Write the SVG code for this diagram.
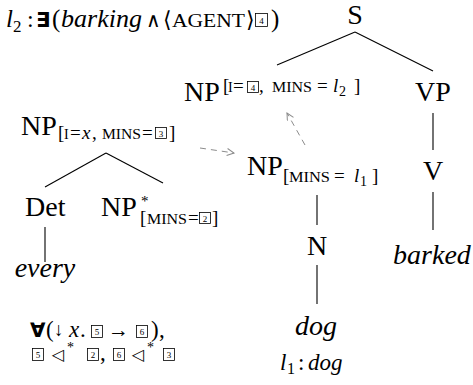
<svg xmlns="http://www.w3.org/2000/svg" width="473" height="385" viewBox="0 0 473 385">
<defs>
<style>
text{font-family:"Liberation Serif","DejaVu Serif",serif;fill:#000}
.lab{font-size:28px}
.it{font-style:italic}
.sub{font-size:19px}
.sc{font-size:14px}
.q{font-family:"DejaVu Sans",sans-serif;font-weight:bold}
.m{font-family:"DejaVu Serif","DejaVu Sans",serif}
.bx{fill:none;stroke:#000;stroke-width:0.8}
.bn{font-size:9px;text-anchor:middle}
.edge{stroke:#000;stroke-width:1.1;fill:none}
.dash{stroke:#8c8c8c;stroke-width:1;stroke-dasharray:6 5;fill:none}
</style>
<marker id="ah" markerWidth="10" markerHeight="10" refX="8" refY="4" orient="auto" markerUnits="userSpaceOnUse">
<path d="M1,0.5 L8,4 L1,7.5" fill="none" stroke="#8c8c8c" stroke-width="1"/>
</marker>
</defs>

<g id="sem-l2">
<text x="6" y="27" font-size="25" class="it">l</text>
<text x="13" y="32" font-size="17">2</text>
<text x="27" y="27" font-size="24">:</text>
<text x="36" y="27" font-size="21" class="q">∃</text>
<text x="52" y="27" font-size="25">(</text>
<text x="61" y="27" font-size="25" class="it" textLength="81" lengthAdjust="spacingAndGlyphs">barking</text>
<text x="146" y="27" font-size="20" class="m">∧</text>
<text x="163" y="27" font-size="22" class="m">⟨</text>
<text x="172" y="27" font-size="18" textLength="73" lengthAdjust="spacingAndGlyphs">AGENT</text>
<text x="246" y="27" font-size="22" class="m">⟩</text>
<rect class="bx" x="255.5" y="13.5" width="12" height="13"/>
<text x="261.5" y="24" class="bn" font-size="11">4</text>
<text x="271" y="27" font-size="25">)</text>
</g>

<g id="S">
<text x="355" y="24" class="lab" text-anchor="middle">S</text>
</g>

<g id="NP-top">
<text x="184" y="101" class="lab">NP</text>
<text x="223" y="92" class="sub">[</text>
<text x="228" y="92" class="sc">I</text>
<text x="233" y="92" class="sub">=</text>
<rect class="bx" x="247.5" y="81.5" width="11" height="11"/>
<text x="253" y="90.5" class="bn">4</text>
<text x="259" y="92" class="sub">,</text>
<text x="272" y="92" class="sc" textLength="40" lengthAdjust="spacingAndGlyphs">MINS</text>
<text x="317" y="92" class="sub">=</text>
<text x="333" y="92" class="sub it">l</text>
<text x="339" y="96" font-size="14">2</text>
<text x="354" y="92" class="sub">]</text>
</g>

<g id="VP">
<text x="415" y="101" class="lab">VP</text>
</g>

<g id="NP-every">
<text x="21" y="135" class="lab">NP</text>
<text x="58" y="139" class="sub">[</text>
<text x="64" y="139" class="sc">I</text>
<text x="70" y="139" class="sub">=</text>
<text x="82" y="139" class="sub it">x</text>
<text x="92" y="139" class="sub">,</text>
<text x="102" y="139" class="sc" textLength="39" lengthAdjust="spacingAndGlyphs">MINS</text>
<text x="142" y="139" class="sub">=</text>
<rect class="bx" x="155.5" y="127.5" width="11" height="11"/>
<text x="161" y="136.5" class="bn">3</text>
<text x="169" y="139" class="sub">]</text>
</g>

<g id="NP-dog">
<text x="247" y="175" class="lab">NP</text>
<text x="283" y="182" class="sub">[</text>
<text x="289" y="182" class="sc" textLength="41" lengthAdjust="spacingAndGlyphs">MINS</text>
<text x="334" y="182" class="sub">=</text>
<text x="354" y="182" class="sub it">l</text>
<text x="360" y="186" font-size="14">1</text>
<text x="372" y="182" class="sub">]</text>
</g>

<g id="V">
<text x="433" y="180" class="lab" text-anchor="middle">V</text>
</g>

<g id="Det">
<text x="25" y="216" class="lab">Det</text>
</g>

<g id="NP-foot">
<text x="101" y="216" class="lab">NP</text>
<text x="141" y="206" font-size="15">*</text>
<text x="140" y="224" class="sub">[</text>
<text x="147" y="224" class="sc" textLength="40" lengthAdjust="spacingAndGlyphs">MINS</text>
<text x="188" y="224" class="sub">=</text>
<rect class="bx" x="199.5" y="212.5" width="11" height="11"/>
<text x="205" y="221.5" class="bn">2</text>
<text x="212" y="224" class="sub">]</text>
</g>

<g id="N">
<text x="317" y="255" class="lab" text-anchor="middle">N</text>
</g>

<g id="barked">
<text x="432" y="264" class="lab it" text-anchor="middle">barked</text>
</g>

<g id="every">
<text x="45" y="277" class="lab it" text-anchor="middle">every</text>
</g>

<g id="dog">
<text x="316" y="335" class="lab it" text-anchor="middle">dog</text>
</g>

<g id="sem-every">
<text x="30" y="337" font-size="20" class="q">∀</text>
<text x="46" y="337" font-size="23">(</text>
<text x="54" y="336" font-size="19">↓</text>
<text x="69" y="337" font-size="23" class="it">x</text>
<text x="80" y="337" font-size="23">.</text>
<rect class="bx" x="91.5" y="325.5" width="11" height="12"/>
<text x="97" y="335" class="bn" font-size="10">5</text>
<text x="108" y="337" font-size="21">→</text>
<rect class="bx" x="136.5" y="325.5" width="11" height="12"/>
<text x="142" y="335" class="bn" font-size="10">6</text>
<text x="151" y="337" font-size="23">)</text>
<text x="159" y="337" font-size="23">,</text>
<rect class="bx" x="32.5" y="348.5" width="11" height="12"/>
<text x="38" y="358" class="bn" font-size="10">5</text>
<text x="52" y="360" font-size="16" class="m">◁</text>
<text x="67" y="352" font-size="14">*</text>
<rect class="bx" x="87.5" y="348.5" width="11" height="12"/>
<text x="93" y="358" class="bn" font-size="10">2</text>
<text x="100" y="360" font-size="23">,</text>
<rect class="bx" x="113.5" y="348.5" width="11" height="12"/>
<text x="119" y="358" class="bn" font-size="10">6</text>
<text x="132" y="360" font-size="16" class="m">◁</text>
<text x="147" y="352" font-size="14">*</text>
<rect class="bx" x="163.5" y="348.5" width="11" height="12"/>
<text x="169" y="358" class="bn" font-size="10">3</text>
</g>

<g id="sem-dog">
<text x="280" y="370" font-size="23" class="it">l</text>
<text x="287" y="374" font-size="16">1</text>
<text x="298" y="370" font-size="23">:</text>
<text x="308" y="370" font-size="23" class="it">dog</text>
</g>

<g id="connectors">
<line class="edge" x1="355" y1="32" x2="277" y2="65"/>
<line class="edge" x1="355" y1="32" x2="433" y2="71"/>
<line class="edge" x1="433" y1="113" x2="433" y2="150"/>
<line class="edge" x1="433" y1="192" x2="433" y2="230"/>
<line class="edge" x1="106" y1="153" x2="45" y2="187"/>
<line class="edge" x1="106" y1="153" x2="163" y2="183"/>
<line class="edge" x1="45" y1="227" x2="45" y2="262"/>
<line class="edge" x1="317" y1="195" x2="317" y2="225"/>
<line class="edge" x1="317" y1="265" x2="317" y2="304"/>
<path class="dash" d="M305,145 L287,113" marker-end="url(#ah)"/>
<path class="dash" d="M200,148 L234,153" marker-end="url(#ah)"/>
</g>
</svg>
